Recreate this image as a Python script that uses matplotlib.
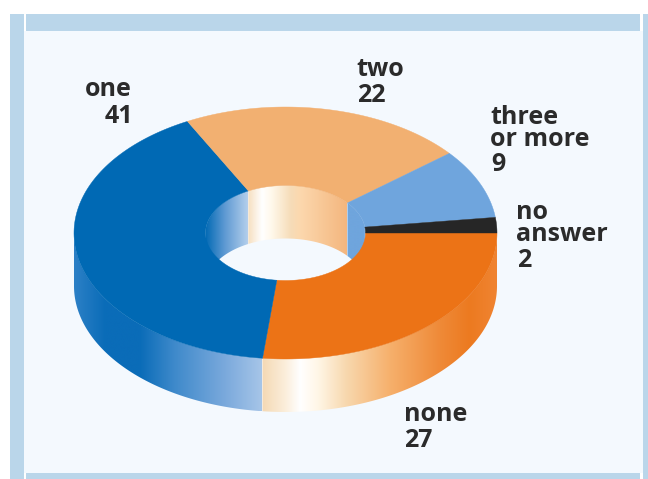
import numpy as np
import matplotlib
matplotlib.use("Agg")
import matplotlib.pyplot as plt
from matplotlib.colors import LinearSegmentedColormap, to_rgb
from matplotlib.patches import Polygon, Rectangle

# Survey answers, in clockwise order from the three o'clock position
categories = ["none", "one", "two", "three\nor more", "no\nanswer"]
values = [27, 41, 22, 9, 2]

top_colors = ["#ec7316", "#0069b4", "#f2b071", "#6fa5dd", "#262626"]

# Horizontal shading of the outer rim, (pixel x, colour) per visible slice
outer_shades = {
    0: [(262, "#f4d9b4"), (285, "#fbeedb"), (300, "#ffffff"), (318, "#fff6e6"),
        (345, "#f8d9b0"), (390, "#f6b06c"), (440, "#ef8a38"), (470, "#ec7a20"), (497, "#f08432")],
    1: [(74, "#2c80c6"), (105, "#0a6cb8"), (140, "#0a6cb8"), (175, "#3f8acb"),
        (225, "#7aa9dc"), (262, "#a6c5e8")],
}
# Shading of the far wall of the hole
inner_shades = {
    1: [(205, "#0069b4"), (225, "#5f9ad3"), (248, "#b4cfec")],
    2: [(248, "#f6dfc0"), (262, "#ffffff"), (272, "#fff8ea"), (291, "#f6dcb8"),
        (300, "#fcd8ae"), (347, "#f4b67e")],
    3: [(347, "#6fa5dd"), (366, "#6fa5dd")],
    4: [(347, "#6fa5dd"), (366, "#6fa5dd")],
}

# Text anchors: left edge and baseline of the last category line, then of the count
name_x = [404, 85, 356, 490, 516]
value_x = [404, 105, 357, 491, 517]
name_baselines = [421, 96, 76, 146, 241]
value_baselines = [447, 123, 102, 171, 267]

# Ring geometry in pixels
CX, CY = 285.5, 233
RX, RY = 211.5, 126
IX, IY = 80, 47.5
DEPTH = 53

W, H = 648, 479
fig = plt.figure(figsize=(W / 100, H / 100), dpi=100, facecolor="white")
ax = fig.add_axes([0, 0, 1, 1])
ax.set_xlim(0, W)
ax.set_ylim(H, 0)
ax.axis("off")

# Panel and frame bars
FRAME = "#bad6ea"
ax.add_patch(Rectangle((24, 31), 619, 442, fc="#f4f9fe", ec="none", zorder=0))
ax.add_patch(Rectangle((10, 14), 14, H - 14, fc=FRAME, ec="none", zorder=0.1))
ax.add_patch(Rectangle((26, 14), 614, 17, fc=FRAME, ec="none", zorder=0.1))
ax.add_patch(Rectangle((643, 14), 5, H - 14, fc=FRAME, ec="none", zorder=0.1))
ax.add_patch(Rectangle((26, 473), 614, 6, fc=FRAME, ec="none", zorder=0.1))

shares = np.array(values, dtype=float) / sum(values) * 360
edges = np.concatenate([[0], np.cumsum(shares)])


def arc(rx, ry, a0, a1, n=120):
    t = np.radians(np.linspace(a0, a1, n))
    return np.column_stack([CX + rx * np.cos(t), CY + ry * np.sin(t)])


def shade(stops, poly, zorder):
    xs = [s[0] for s in stops]
    x0, x1 = xs[0], xs[-1]
    pos = [(x - x0) / (x1 - x0) for x in xs]
    cmap = LinearSegmentedColormap.from_list("rim", list(zip(pos, [to_rgb(s[1]) for s in stops])))
    ymin, ymax = poly[:, 1].min(), poly[:, 1].max()
    im = ax.imshow(np.linspace(0, 1, 512)[None, :], cmap=cmap, aspect="auto",
                   extent=(x0, x1, ymax, ymin), zorder=zorder, interpolation="bilinear")
    patch = Polygon(poly, closed=True, transform=ax.transData, fc="none", ec="none")
    ax.add_patch(patch)
    im.set_clip_path(patch)


# Outer rim
for i, stops in outer_shades.items():
    a0, a1 = edges[i], min(edges[i + 1], 180)
    top = arc(RX, RY, a0, a1)
    shade(stops, np.vstack([top, top[::-1] + [0, DEPTH]]), 1)

# Far wall of the hole
for i, stops in inner_shades.items():
    a0, a1 = max(edges[i], 180), edges[i + 1]
    top = arc(IX, IY, a0, a1)
    shade(stops, np.vstack([top, top[::-1] + [0, DEPTH]]), 2)

# Top surface
for i in range(len(values)):
    outer = arc(RX, RY, edges[i], edges[i + 1])
    inner = arc(IX, IY, edges[i], edges[i + 1])
    ax.add_patch(Polygon(np.vstack([outer, inner[::-1]]), closed=True,
                         fc=top_colors[i], ec=top_colors[i], lw=0.3, zorder=3))

ax.set_xlim(0, W)
ax.set_ylim(H, 0)

# Labels: category lines above the count
style = dict(ha="left", va="baseline", fontsize=18, color="#2b2b2b",
             family="Open Sans", weight="bold", zorder=5)
for i, val in enumerate(values):
    ax.text(name_x[i], name_baselines[i], categories[i], linespacing=0.84, **style)
    ax.text(value_x[i], value_baselines[i], str(val), **style)

fig.savefig("out.png", dpi=100, facecolor="white")
